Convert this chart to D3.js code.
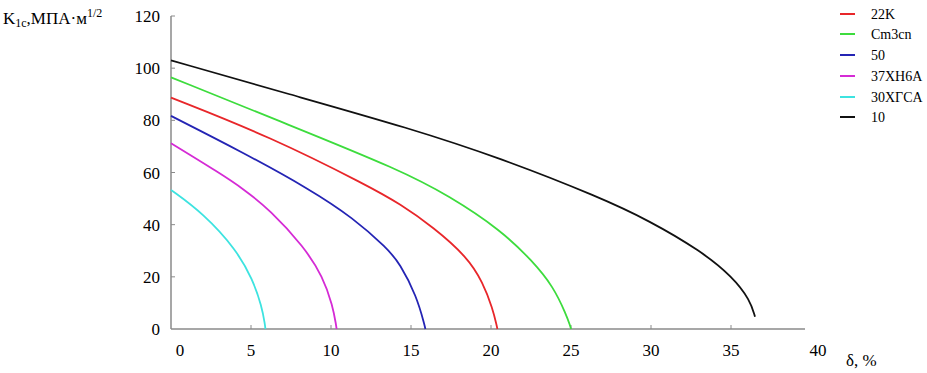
<!DOCTYPE html>
<html>
<head>
<meta charset="utf-8">
<script src="https://cdnjs.cloudflare.com/ajax/libs/d3/7.8.5/d3.min.js"></script>
<style>
  body { margin: 0; background: #fff; }
  svg { display: block; font-family: "Liberation Serif", "DejaVu Serif", serif; }
</style>
</head>
<body>
<div id="chart"></div>
<script>
// series names and colours, in legend order
var seriesNames = ['22K', 'Cm3cn', '50', '37XH6A', '30XГCA', '10'];
var seriesColors = ['#e8262a', '#3ddc3d', '#2424b4', '#d52bd5', '#3de3e0', '#111111'];

// [delta %, K1c]
var s22K = [[0, 88.7], [6.2, 73.7], [12.4, 54.6], [14.3, 48], [16.4, 39], [18.5, 27.7], [19.5, 17.8], [20.1, 7.8], [20.35, 1.5], [20.4, 0]];
var sCm3cn = [[0, 96.5], [7.4, 78.2], [14.3, 61], [17.4, 51], [20.6, 38], [22.6, 26], [23.9, 16.2], [24.7, 5.5], [24.95, 1.2], [25, 0]];
var s50 = [[0, 81.7], [4.4, 68], [8.7, 53.5], [11.4, 42.5], [13.5, 31], [14.3, 25.2], [15.35, 12.6], [15.85, 1.5], [15.9, 0]];
var s37 = [[0, 71.2], [3.06, 59.7], [4.5, 53.8], [6.2, 45.6], [8.3, 31.6], [9.5, 20], [10.1, 9], [10.32, 1.5], [10.35, 0]];
var s30 = [[0, 53.3], [2, 44.4], [4.1, 30.3], [5.1, 19], [5.67, 8.8], [5.88, 1.5], [5.9, 0]];
var s10 = [[0, 103], [7.4, 90], [14.9, 77], [20.6, 65.5], [26.8, 50.5], [29.9, 41.5], [33.1, 30], [35.1, 20], [36.2, 11], [36.5, 4.7]];
var seriesData = [s22K, sCm3cn, s50, s37, s30, s10];

var xTicks = [0, 5, 10, 15, 20, 25, 30, 35, 40];
var yTicks = [0, 20, 40, 60, 80, 100, 120];

var svgWidth = 927, svgHeight = 373;

var svg = d3.select('#chart').append('svg')
    .attr('width', svgWidth)
    .attr('height', svgHeight);

var x = d3.scaleLinear().domain([0, 40]).range([171, 811]);
var y = d3.scaleLinear().domain([0, 120]).range([329, 16]);

var axisColor = '#8a8a8a';

// axes lines
svg.append('line')
    .attr('x1', x(0)).attr('x2', 805)
    .attr('y1', y(0)).attr('y2', y(0))
    .attr('stroke', axisColor).attr('stroke-width', 1.5);
svg.append('line')
    .attr('x1', x(0)).attr('x2', x(0))
    .attr('y1', y(0)).attr('y2', y(120))
    .attr('stroke', axisColor).attr('stroke-width', 1.5);

// ticks (inside)
svg.selectAll('.xtick').data(xTicks.filter(d => d > 0 && d < 40)).enter()
  .append('line')
    .attr('x1', d => x(d)).attr('x2', d => x(d))
    .attr('y1', y(0)).attr('y2', y(0) - 4)
    .attr('stroke', axisColor);
svg.selectAll('.ytick').data(yTicks.filter(d => d > 0)).enter()
  .append('line')
    .attr('x1', x(0)).attr('x2', x(0) + 4)
    .attr('y1', d => y(d)).attr('y2', d => y(d))
    .attr('stroke', axisColor);

// tick labels
svg.selectAll('.xlab').data(xTicks).enter()
  .append('text')
    .attr('x', d => x(d) + (d === 0 ? 9 : (d === 40 ? 7 : 0)))
    .attr('y', 356)
    .attr('text-anchor', 'middle')
    .attr('font-size', 17)
    .text(d => d);
svg.selectAll('.ylab').data(yTicks).enter()
  .append('text')
    .attr('x', 160)
    .attr('y', d => y(d) + 6)
    .attr('text-anchor', 'end')
    .attr('font-size', 17)
    .text(d => d);

// axis titles
var yt = svg.append('text').attr('x', 3).attr('y', 24).attr('font-size', 17);
yt.append('tspan').text('K');
yt.append('tspan').attr('font-size', 12).attr('dy', 3).text('1c');
yt.append('tspan').attr('dy', -3).text(',МПА·м');
yt.append('tspan').attr('font-size', 12).attr('dy', -7).text('1/2');

svg.append('text')
    .attr('x', 846).attr('y', 366)
    .attr('font-size', 17)
    .text('δ, %');

// curves
var line = d3.line()
    .x(d => x(d[0]))
    .y(d => y(d[1]))
    .curve(d3.curveBasis);

svg.selectAll('.curve').data(seriesData).enter()
  .append('path')
    .attr('d', line)
    .attr('fill', 'none')
    .attr('stroke', (d, i) => seriesColors[i])
    .attr('stroke-width', 1.8);

// legend
var legendY = [14, 34, 55, 76, 97, 117];
var legend = svg.selectAll('.leg').data(seriesNames).enter()
  .append('g')
    .attr('transform', (d, i) => `translate(840, ${legendY[i]})`);
legend.append('line')
    .attr('x1', 0).attr('x2', 15)
    .attr('stroke', (d, i) => seriesColors[i])
    .attr('stroke-width', 2);
legend.append('text')
    .attr('x', 31).attr('y', 5)
    .attr('font-size', 14)
    .text(d => d);
</script>
</body>
</html>
